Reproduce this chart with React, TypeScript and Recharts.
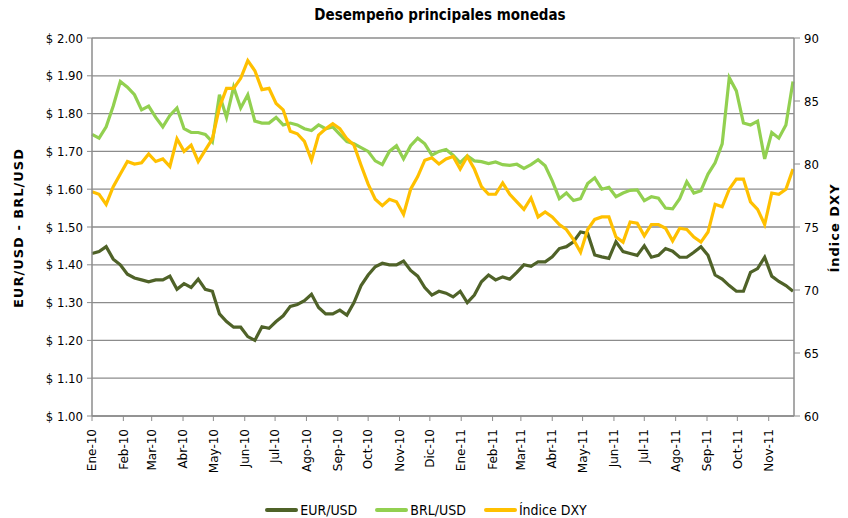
import React from 'react'
import { LineChart, Line, XAxis, YAxis, CartesianGrid, Legend } from 'recharts'

// etiquetas de mes y su posicion (dias desde 1-ene-2010)
const meses = ['Ene-10', 'Feb-10', 'Mar-10', 'Abr-10', 'May-10', 'Jun-10', 'Jul-10', 'Ago-10', 'Sep-10', 'Oct-10', 'Nov-10', 'Dic-10',
  'Ene-11', 'Feb-11', 'Mar-11', 'Abr-11', 'May-11', 'Jun-11', 'Jul-11', 'Ago-11', 'Sep-11', 'Oct-11', 'Nov-11']
const inicioMes = [0, 31, 59, 90, 120, 151, 181, 212, 243, 273, 304, 334, 365, 396, 424, 455, 485, 516, 546, 577, 608, 638, 669]

// valores semanales
const eurUsd = [
  1.43, 1.435, 1.448, 1.415, 1.40, 1.375, 1.365, 1.36, 1.355, 1.36, 1.36, 1.37, 1.335, 1.35, 1.34, 1.362, 1.335, 1.33, 1.27, 1.25, 1.235, 1.235, 1.21, 1.20, 1.236, 1.232,
  1.25, 1.265, 1.29, 1.295, 1.305, 1.322, 1.287, 1.27, 1.27, 1.28, 1.267, 1.30, 1.345, 1.373, 1.395, 1.404, 1.40, 1.40, 1.41, 1.385, 1.37, 1.34, 1.32, 1.33, 1.325, 1.315,
  1.33, 1.30, 1.32, 1.355, 1.373, 1.36, 1.368, 1.362, 1.38, 1.40, 1.396, 1.408, 1.408, 1.421, 1.443, 1.448, 1.461, 1.487, 1.483, 1.426, 1.421, 1.417, 1.461, 1.435, 1.43,
  1.425, 1.45, 1.42, 1.425, 1.443, 1.436, 1.42, 1.42, 1.433, 1.448, 1.425, 1.373, 1.362, 1.345, 1.33, 1.33, 1.38, 1.39, 1.42, 1.37, 1.356, 1.345, 1.33
]
const brlUsd = [
  1.745, 1.735, 1.765, 1.82, 1.885, 1.87, 1.85, 1.81, 1.82, 1.79, 1.765, 1.795, 1.815, 1.76, 1.75, 1.75, 1.745, 1.725, 1.85, 1.79, 1.87, 1.815, 1.85, 1.78, 1.775, 1.775,
  1.79, 1.77, 1.775, 1.77, 1.76, 1.755, 1.77, 1.76, 1.765, 1.745, 1.726, 1.72, 1.71, 1.70, 1.675, 1.665, 1.70, 1.715, 1.68, 1.715, 1.735, 1.72, 1.69, 1.70, 1.705, 1.69,
  1.67, 1.688, 1.675, 1.673, 1.668, 1.672, 1.665, 1.663, 1.666, 1.655, 1.665, 1.678, 1.662, 1.622, 1.575, 1.59, 1.57, 1.575, 1.615, 1.63, 1.60, 1.605, 1.58, 1.59, 1.597,
  1.598, 1.57, 1.58, 1.576, 1.55, 1.548, 1.575, 1.62, 1.59, 1.596, 1.64, 1.67, 1.72, 1.895, 1.86, 1.775, 1.77, 1.78, 1.68, 1.75, 1.735, 1.77, 1.885
]
const indiceDxy = [
  77.8, 77.6, 76.8, 78.2, 79.2, 80.2, 80.0, 80.1, 80.8, 80.2, 80.4, 79.8, 82.0, 81.0, 81.5, 80.2, 81.1, 82.0, 84.5, 86.0, 86.0, 86.8, 88.2, 87.4, 85.9, 86.0,
  84.8, 84.3, 82.6, 82.4, 81.8, 80.3, 82.3, 82.8, 83.2, 82.8, 82.0, 81.5, 79.9, 78.4, 77.2, 76.7, 77.2, 77.0, 76.0, 78.0, 79.0, 80.3, 80.5, 80.0, 80.4, 80.6,
  79.6, 80.6, 79.6, 78.2, 77.6, 77.6, 78.5, 77.6, 77.0, 76.4, 77.3, 75.8, 76.2, 75.8, 75.2, 74.8, 74.0, 73.0, 74.8, 75.6, 75.8, 75.8, 74.2, 73.8, 75.4,
  75.3, 74.3, 75.2, 75.2, 74.9, 73.9, 74.9, 74.8, 74.2, 73.8, 74.6, 76.8, 76.6, 78.0, 78.8, 78.8, 77.0, 76.4, 75.2, 77.7, 77.6, 78.0, 79.6
]
const ticksIzq = [1.0, 1.1, 1.2, 1.3, 1.4, 1.5, 1.6, 1.7, 1.8, 1.9, 2.0]
const ticksDer = [60, 65, 70, 75, 80, 85, 90]

const dias = eurUsd.map((_, i) => i * 7)
const data = dias.map((dia, i) => ({ dia, eur: eurUsd[i], brl: brlUsd[i], dxy: indiceDxy[i] }))

const GRIS = '#8c8c8c'
const NARROW = "'DejaVu Sans Condensed', 'Liberation Sans Narrow', 'Liberation Sans', sans-serif"

const MesTick = (props: any) => {
  const { x, y, payload } = props
  const i = inicioMes.indexOf(payload.value)
  return (
    <text transform={`translate(${x}, ${y + 6}) rotate(-90)`} textAnchor="end" dy="0.35em"
      fontFamily="'DejaVu Sans', sans-serif" fontSize={12} fill="#000">
      {meses[i]}
    </text>
  )
}

const series = [
  { key: 'eur', name: 'EUR/USD', color: '#4F6228' },
  { key: 'brl', name: 'BRL/USD', color: '#92D050' },
  { key: 'dxy', name: 'Índice DXY', color: '#FFC000' }
]

const Leyenda = () => (
  <div style={{ display: 'flex', justifyContent: 'center', alignItems: 'center', gap: 18, paddingLeft: 4, fontFamily: NARROW, fontSize: 14 }}>
    {series.map(s => (
      <div key={s.key} style={{ display: 'flex', alignItems: 'center' }}>
        <svg width={33} height={6}><line x1={2} y1={3} x2={31} y2={3} stroke={s.color} strokeWidth={4} strokeLinecap="round" /></svg>
        <span style={{ marginLeft: 2 }}>{s.name}</span>
      </div>
    ))}
  </div>
)

const tituloEje = { position: 'absolute' as const, top: 228, transform: 'translate(-50%, -50%) rotate(-90deg)', whiteSpace: 'nowrap' as const, fontFamily: "'DejaVu Sans', sans-serif", fontWeight: 'bold' as const, fontSize: 13, letterSpacing: 1 }

const App = () => {
  return (
    <div style={{ position: 'relative', width: 848, height: 518, background: '#fff' }}>
      <style>{'body{margin:0}'}</style>
      <div style={{ position: 'absolute', top: 6, left: 0, width: 880, textAlign: 'center', fontFamily: "'DejaVu Sans Condensed', 'DejaVu Sans', sans-serif", fontWeight: 'bold', fontSize: 15 }}>
        Desempeño principales monedas
      </div>
      <div style={{ ...tituloEje, left: 18 }}>EUR/USD - BRL/USD</div>
      <div style={{ ...tituloEje, left: 834 }}>Índice DXY</div>
      <LineChart width={848} height={518} data={data} margin={{ top: 38, right: 0, bottom: 0, left: 0 }}>
        <CartesianGrid yAxisId="izq" vertical={false} stroke={GRIS} strokeWidth={1.3} />
        <XAxis dataKey="dia" type="number" domain={[0, 694]} ticks={inicioMes} interval={0} height={86}
          tick={<MesTick />} axisLine={{ stroke: GRIS, strokeWidth: 1.5 }} tickLine={{ stroke: GRIS }} tickSize={5} />
        <YAxis yAxisId="izq" domain={[1, 2]} ticks={ticksIzq} width={92} interval={0}
          tickFormatter={(v: number) => `$ ${v.toFixed(2)}`}
          tick={{ fill: '#000', fontSize: 13, fontFamily: NARROW }} tickMargin={4}
          axisLine={{ stroke: GRIS, strokeWidth: 1.5 }} tickLine={{ stroke: GRIS }} tickSize={5} />
        <YAxis yAxisId="der" orientation="right" domain={[60, 90]} ticks={ticksDer} width={54} interval={0}
          tick={{ fill: '#000', fontSize: 13, fontFamily: NARROW }} tickMargin={4}
          axisLine={{ stroke: GRIS, strokeWidth: 1.5 }} tickLine={{ stroke: GRIS }} tickSize={6} />
        <Legend verticalAlign="bottom" height={16} content={<Leyenda />} />
        <Line yAxisId="izq" dataKey="eur" name="EUR/USD" stroke="#4F6228" strokeWidth={3.2} dot={false} isAnimationActive={false} />
        <Line yAxisId="izq" dataKey="brl" name="BRL/USD" stroke="#92D050" strokeWidth={3.2} dot={false} isAnimationActive={false} />
        <Line yAxisId="der" dataKey="dxy" name="Índice DXY" stroke="#FFC000" strokeWidth={3.2} dot={false} isAnimationActive={false} />
      </LineChart>
    </div>
  )
}

export default App
